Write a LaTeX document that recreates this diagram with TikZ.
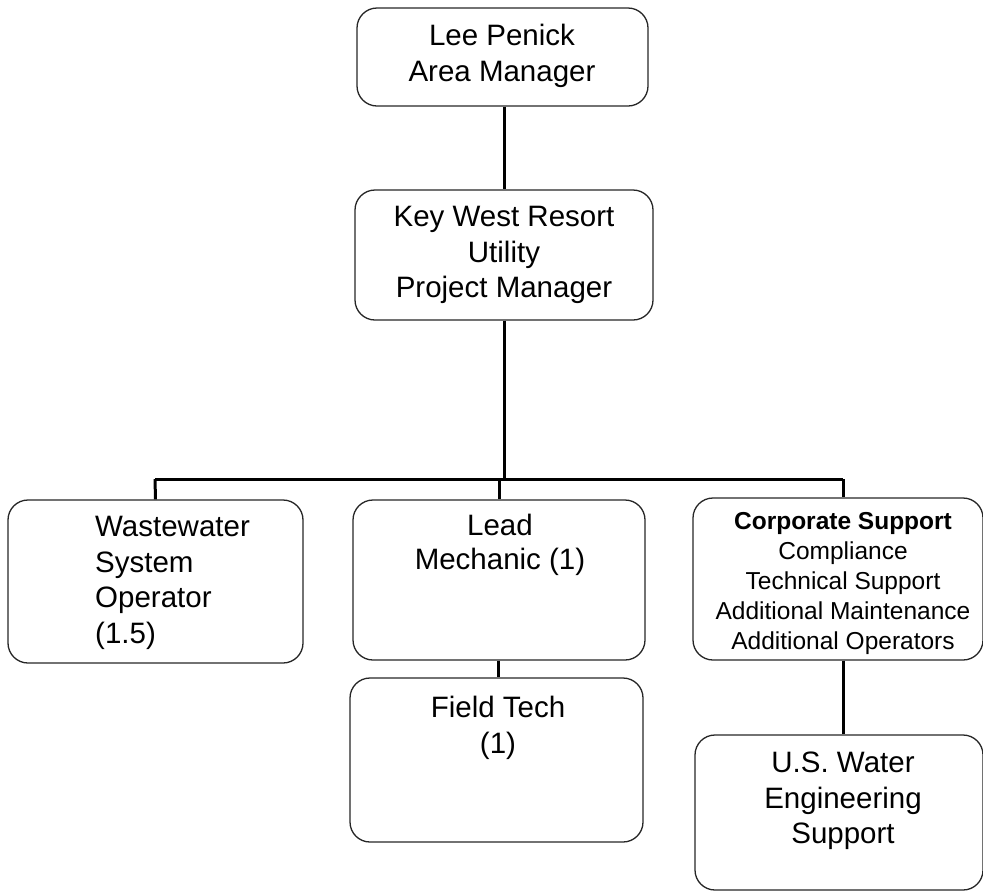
\documentclass[tikz,border=0pt]{standalone}
\usepackage{fontspec}
\setmainfont{Liberation Sans}
\begin{document}
\begin{tikzpicture}[x=1pt,y=-1pt,
  box/.style={draw=black!85,line width=1.3pt,rounded corners=20pt,inner sep=0pt},
  link/.style={draw=black,line width=3pt},
  txt/.style={inner sep=0pt,anchor=north,align=center,font=\fontsize{29.5}{35.5}\selectfont},
  smalltxt/.style={inner sep=0pt,anchor=north,align=center,font=\fontsize{24.5}{30}\selectfont}]
\useasboundingbox (0,0) rectangle (983,895);
% boxes
\node[box,minimum width=291pt,minimum height=98pt] (top) at (502.5,57) {};
\node[box,minimum width=298pt,minimum height=130pt] (pm) at (504,255) {};
\node[box,minimum width=295pt,minimum height=163pt] (ww) at (155.5,581.5) {};
\node[box,minimum width=292pt,minimum height=160pt] (lead) at (499,580) {};
\node[box,minimum width=293pt,minimum height=164pt] (field) at (496.5,760) {};
\node[box,minimum width=290pt,minimum height=162pt] (corp) at (838,579) {};
\node[box,minimum width=288pt,minimum height=155pt] (usw) at (839,812.5) {};
% texts
\node[txt] (topT) at (502,24) {Lee Penick\\Area Manager};
\node[txt] (pmT) at (504,206) {Key West Resort\\Utility\\Project Manager};
\node[txt,align=left,anchor=north west] (wwT) at (95,516) {Wastewater\\System\\Operator\\(1.5)};
\node[txt,font=\fontsize{29.5}{33.5}\selectfont] (leadT) at (500,514) {Lead\\Mechanic (1)};
\node[txt] (fieldT) at (498,696) {Field Tech\\(1)};
\node[smalltxt] (corpT) at (843,512) {\textbf{Corporate Support}\\Compliance\\Technical Support\\Additional Maintenance\\Additional Operators};
\node[txt] (uswT) at (843,752) {U.S. Water\\Engineering\\Support};
% connectors
\coordinate (busL) at (155,479);
\coordinate (busR) at (843,479);
\draw[link] (top.south -| pm.north) -- (pm.north);
\draw[link] (pm.south) -- (pm.south |- busL);
\draw[link] (busL) -- (busR);
\draw[link] (busL) -- (ww.north);
\draw[link] (lead.north |- busL) -- (lead.north);
\draw[link] (busR) -- (busR |- corp.north);
\draw[link] (lead.south -| fieldT.north) -- (field.north -| fieldT.north);
\draw[link] (corp.south -| busR) -- (usw.north -| busR);
\end{tikzpicture}
\end{document}
